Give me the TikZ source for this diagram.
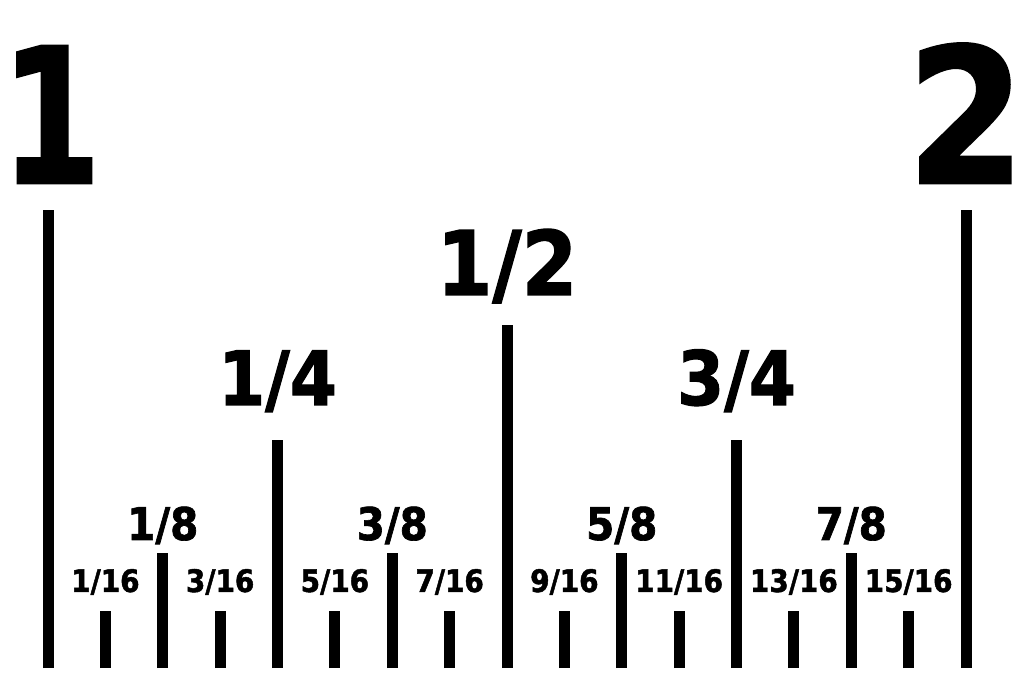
\documentclass[tikz,border=0pt]{standalone}
\usepackage{fontspec}
\setmainfont{DejaVu Sans Condensed}[BoldFeatures={FakeBold=1.5}]
\begin{document}
\begin{tikzpicture}[x=1pt,y=1pt,
  tick/.style={line width=11pt},
  lab/.style={anchor=base,inner sep=0pt,font=\bfseries}]
\useasboundingbox (0,0) rectangle (1024,682);
% tick marks, one every sixteenth
\foreach \i/\h in {0/472,1/71,2/129,3/71,4/242,5/71,6/129,7/71,8/357,
  9/71,10/129,11/71,12/242,13/71,14/129,15/71,16/472}
  \draw[tick] ({48+\i*57.375},14) -- ({48+\i*57.375},\h);
% inch numbers
\node[lab,xscale=0.85,transform shape,font=\fontsize{188}{188}\selectfont\bfseries] (one) at (51,499) {1};
\node[lab,font=\fontsize{188}{188}\selectfont\bfseries] (two) at (966,499) {2};
% half and quarters
\node[lab,font=\fontsize{89}{89}\selectfont\bfseries] (half) at (507,387) {1/2};
\node[lab,font=\fontsize{75}{75}\selectfont\bfseries] (q1) at ({48+4*57.375},277) {1/4};
\node[lab,font=\fontsize{75}{75}\selectfont\bfseries] (q3) at ({48+12*57.375},277) {3/4};
% eighths
\foreach \n in {1,3,5,7}
  \node[lab,font=\fontsize{45}{45}\selectfont\bfseries] (e\n) at ({48+2*\n*57.375},142) {\n/8};
% sixteenths
\foreach \n in {1,3,...,15}
  \node[lab,font=\fontsize{31}{31}\selectfont\bfseries] (s\n) at ({48+\n*57.375},90) {\n/16};
\end{tikzpicture}
\end{document}
